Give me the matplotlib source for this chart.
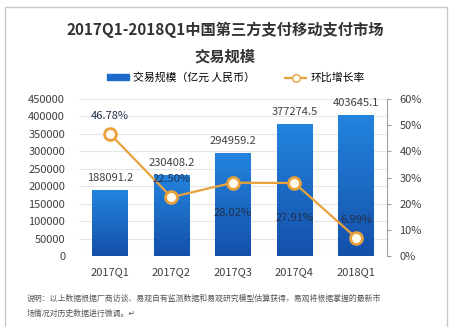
import matplotlib
matplotlib.use("Agg")
import matplotlib.pyplot as plt
import numpy as np
from matplotlib.colors import LinearSegmentedColormap
from matplotlib.patches import Rectangle
from matplotlib.lines import Line2D

plt.rcParams['font.family'] = ['Noto Sans CJK SC', 'DejaVu Sans']

quarters = ['2017Q1', '2017Q2', '2017Q3', '2017Q4', '2018Q1']
volume = [188091.2, 230408.2, 294959.2, 377274.5, 403645.1]
growth = [46.78, 22.50, 28.02, 27.91, 6.99]
growth_offsets = [13, 13, -22, -25, 13]  # label above / below marker, in points

left_ticks = np.arange(0, 450001, 50000)
right_ticks = np.arange(0, 61, 10)

fig = plt.figure(figsize=(4.5, 3.27), dpi=100)
ax = fig.add_axes([0.1756, 0.2171, 0.684, 0.480])
ax2 = ax.twinx()

x = np.arange(len(quarters))
w = 0.57

# bars with a light-to-dark vertical gradient
cmap = LinearSegmentedColormap.from_list('bar', ['#1450aa', '#2384de'])
grad = np.linspace(0, 1, 256).reshape(-1, 1)
bars = ax.bar(x, volume, w, color='none', zorder=2)
for b in bars:
    ax.imshow(grad, cmap=cmap, origin='lower', aspect='auto', zorder=2,
              extent=[b.get_x(), b.get_x() + b.get_width(), 0, b.get_height()])
for xi, v in zip(x, volume):
    ax.annotate(f'{v:.1f}', (xi, v), xytext=(0, 9), textcoords='offset points',
                ha='center', va='center', fontsize=8, color='#404040')

ax.set_xlim(-0.5, len(quarters) - 0.5)
ax.set_ylim(0, 450000)
ax.set_yticks(left_ticks)
ax.set_yticklabels([str(t) for t in left_ticks])
ax.set_xticks(x)
ax.set_xticklabels(quarters)
ax.grid(axis='y', color='#e6e6e6', lw=0.8, zorder=0)
ax.set_axisbelow(True)
for s in ax.spines.values():
    s.set_visible(False)
ax.tick_params(axis='y', length=0, pad=10, labelsize=8, labelcolor='#404040')
ax.tick_params(axis='x', length=0, pad=8, labelsize=8, labelcolor='#404040')

# growth rate line on the right axis
ax2.plot(x, growth, color='#e9a23b', lw=1.6, marker='o', ms=8.5,
         mfc='#fffaf0', mec='#e9a23b', mew=2, zorder=4)
for xi, g, off in zip(x, growth, growth_offsets):
    ax2.annotate(f'{g:.2f}%', (xi, g), xytext=(0, off), textcoords='offset points',
                 ha='center', va='center', fontsize=8, color='#24304d', zorder=5)
ax2.set_ylim(0, 60)
ax2.set_yticks(right_ticks)
ax2.set_yticklabels([f'{t}%' for t in right_ticks])
for k in ['top', 'left', 'bottom']:
    ax2.spines[k].set_visible(False)
ax2.spines['right'].set_color('#a0a0a0')
ax2.tick_params(axis='y', length=3, color='#a0a0a0', pad=6, labelsize=8, labelcolor='#404040')

# title
fig.text(0.5, 0.910, '2017Q1-2018Q1中国第三方支付移动支付市场', ha='center', va='center',
         fontsize=11, fontweight='bold', color='#333333')
fig.text(0.5, 0.828, '交易规模', ha='center', va='center',
         fontsize=11, fontweight='bold', color='#333333')

# legend
handles = [Rectangle((0, 0), 1, 1, color='#1c6acb'),
           Line2D([], [], color='#e9a23b', lw=1.6, marker='o', ms=5.5, mfc='white', mec='#e9a23b')]
fig.legend(handles, ['交易规模（亿元 人民币）', '环比增长率'], loc='center',
           bbox_to_anchor=(0.525, 0.762), ncol=2, frameon=False, fontsize=7.8,
           handlelength=2.0, handleheight=0.45, columnspacing=2.7, handletextpad=0.4)

# footnote
fig.text(0.06, 0.089, '说明：以上数据根据厂商访谈、易观自有监测数据和易观研究模型估算获得，易观将根据掌握的最新市',
         fontsize=5.7, color='#555555', va='center')
fig.text(0.06, 0.043, '场情况对历史数据进行微调。↵', fontsize=5.7, color='#555555', va='center')

# outer frame
fig.add_artist(Line2D([0.01, 0.01, 0.993, 0.993], [0.0, 0.978, 0.978, 0.0],
                      transform=fig.transFigure, color='#c8c8c8', lw=1))

fig.savefig('out.png', dpi=100)
